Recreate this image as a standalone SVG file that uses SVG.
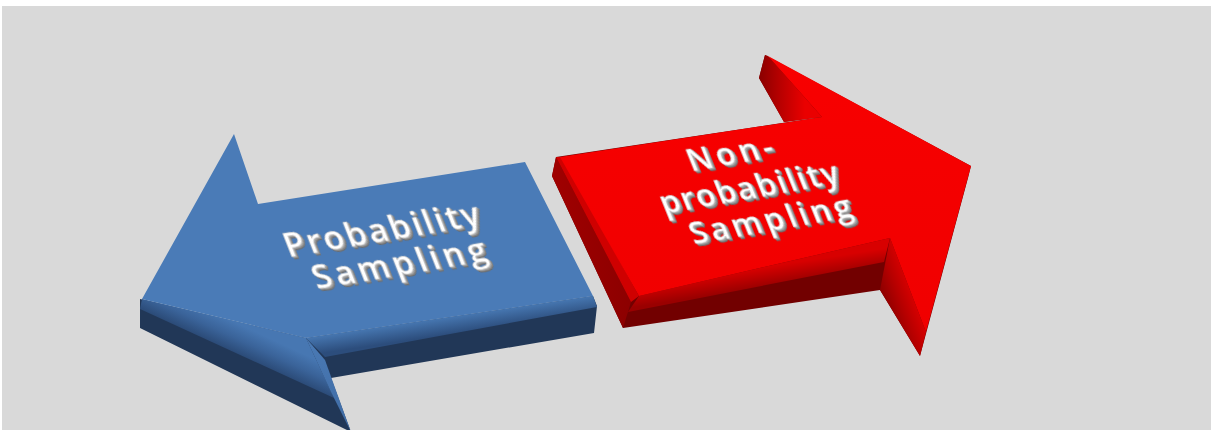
<svg xmlns="http://www.w3.org/2000/svg" width="1213" height="430" viewBox="0 0 1213 430">
  <style>
    .lbl { font-family: "Open Sans", "Noto Sans", "DejaVu Sans", sans-serif; font-weight: 600; text-anchor: middle; fill: #ffffff; stroke: #c4c4c4; stroke-width: 0.5; }
    .lbl-b { font-size: 33px; }
    .lbl-r { font-size: 31px; }
    .b-top { fill: #4a7bb7; }
    .b-side { fill: #213757; }
    .r-side { fill: #720000; }
  </style>
  <defs>
    <!-- raised lettering: stacked grey offsets under the white face -->
    <filter id="raised" x="-10%" y="-20%" width="130%" height="160%">
      <feOffset in="SourceAlpha" dx="0.8" dy="1" result="o1"/>
      <feOffset in="SourceAlpha" dx="1.6" dy="2" result="o2"/>
      <feOffset in="SourceAlpha" dx="2.2" dy="3" result="o3"/>
      <feFlood flood-color="#6a6a6a"/>
      <feComposite in2="o3" operator="in" result="s3"/>
      <feFlood flood-color="#868686"/>
      <feComposite in2="o2" operator="in" result="s2"/>
      <feFlood flood-color="#a6a6a6"/>
      <feComposite in2="o1" operator="in" result="s1"/>
      <feMerge>
        <feMergeNode in="s3"/>
        <feMergeNode in="s2"/>
        <feMergeNode in="s1"/>
        <feMergeNode in="SourceGraphic"/>
      </feMerge>
    </filter>
    <!-- blue bevels -->
    <linearGradient id="bBevelHead" gradientUnits="userSpaceOnUse" x1="230" y1="320" x2="218" y2="346">
      <stop offset="0" stop-color="#4777b2"/>
      <stop offset="0.5" stop-color="#3a6399"/>
      <stop offset="1" stop-color="#2a4975"/>
    </linearGradient>
    <linearGradient id="bBevelShaft" gradientUnits="userSpaceOnUse" x1="450" y1="317" x2="452.5" y2="334">
      <stop offset="0" stop-color="#4676b0"/>
      <stop offset="1" stop-color="#2c4d7c"/>
    </linearGradient>
    <linearGradient id="bWedge" gradientUnits="userSpaceOnUse" x1="0" y1="338" x2="0" y2="430">
      <stop offset="0" stop-color="#4a7ab5"/>
      <stop offset="1" stop-color="#3f6ba4"/>
    </linearGradient>
    <!-- red bevels -->
    <linearGradient id="rBarbSide" gradientUnits="userSpaceOnUse" x1="760" y1="0" x2="805" y2="0">
      <stop offset="0" stop-color="#8c0000"/>
      <stop offset="0.45" stop-color="#b80000"/>
      <stop offset="1" stop-color="#ea0000"/>
    </linearGradient>
    <linearGradient id="rLeftSide" gradientUnits="userSpaceOnUse" x1="552" y1="0" x2="640" y2="0">
      <stop offset="0" stop-color="#a00000"/>
      <stop offset="1" stop-color="#8a0000"/>
    </linearGradient>
    <linearGradient id="rShaftBevel" gradientUnits="userSpaceOnUse" x1="760" y1="268" x2="763" y2="287">
      <stop offset="0" stop-color="#d80000"/>
      <stop offset="1" stop-color="#9a0000"/>
    </linearGradient>
    <linearGradient id="rLowSide" gradientUnits="userSpaceOnUse" x1="884" y1="300" x2="912" y2="290">
      <stop offset="0" stop-color="#8e0000"/>
      <stop offset="0.5" stop-color="#b50000"/>
      <stop offset="1" stop-color="#d80000"/>
    </linearGradient>
    <linearGradient id="rFace" gradientUnits="userSpaceOnUse" x1="0" y1="60" x2="0" y2="340">
      <stop offset="0" stop-color="#f80000"/>
      <stop offset="1" stop-color="#f00000"/>
    </linearGradient>
  </defs>

  <!-- canvas -->
  <rect x="0" y="0" width="1213" height="430" fill="#ffffff"/>
  <rect x="2" y="6" width="1209" height="424" fill="#d9d9d9"/>

  <!-- no connectors: the two arrows stand on their own -->
  <g id="connectors"/>

  <!-- left-pointing blue block arrow -->
  <g id="probability-sampling">
    <polygon class="b-side" points="140,299 140,328 351,432 331,378 594,333 597,306 593,296 306,338"/>
    <polygon fill="url(#bBevelShaft)" points="306,338 593,296 597,307 325,357"/>
    <polygon fill="url(#bBevelHead)" points="142,299 306,338 334,398 140,309"/>
    <polygon fill="url(#bWedge)" points="306,338 325,360 351,432 331,392"/>
    <polygon class="b-top" points="234,134 258,204 525,162 593,296 306,338 142,299"/>
    <g filter="url(#raised)" transform="translate(386,241) rotate(-9.5) skewX(12)">
      <text class="lbl lbl-b" x="0" y="0" textLength="197" lengthAdjust="spacing">Probability</text>
      <text class="lbl lbl-b" x="4" y="36" textLength="175" lengthAdjust="spacing">Sampling</text>
    </g>
  </g>

  <!-- right-pointing red block arrow -->
  <g id="non-probability-sampling">
    <polygon class="r-side" points="556,157 552,176 623,328 880,290 920,356 968,178 971,166 765,55 759,78 784,122 822,117"/>
    <polygon fill="url(#rLeftSide)" points="556,157 552,176 623,328 631,302"/>
    <polygon fill="#cf0000" points="556,157 631,302 639,296 562,157"/>
    <polygon fill="url(#rShaftBevel)" points="639,296 890,238 884,262 628,312"/>
    <polygon fill="url(#rBarbSide)" points="765,55 759,78 784,122 822,117 768,56"/>
    <polygon fill="url(#rLowSide)" points="890,238 880,290 920,356 926,332"/>
    <polygon fill="url(#rFace)" points="560,157 822,117 768,56 971,166 926,332 890,238 639,296"/>
    <g filter="url(#raised)" transform="translate(734,164) rotate(-10) skewX(12)">
      <text class="lbl lbl-r" x="0" y="0" textLength="86" lengthAdjust="spacing">Non-</text>
      <text class="lbl lbl-r" x="5" y="37" textLength="180" lengthAdjust="spacing">probability</text>
      <text class="lbl lbl-r" x="13" y="72" textLength="163" lengthAdjust="spacing">Sampling</text>
    </g>
  </g>
</svg>
